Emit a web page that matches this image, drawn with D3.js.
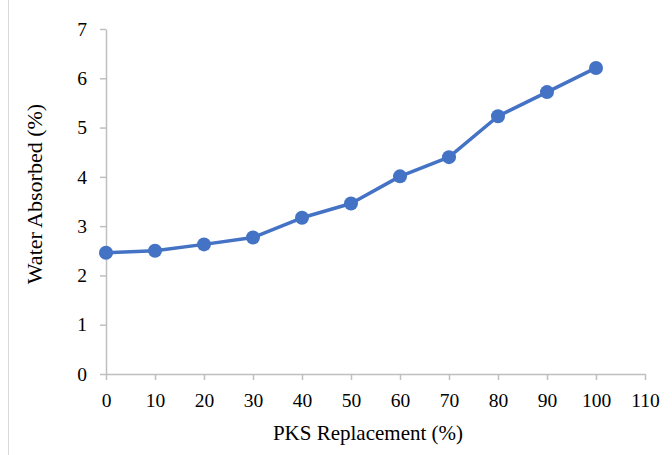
<!DOCTYPE html>
<html>
<head>
<meta charset="utf-8">
<script src="https://cdn.jsdelivr.net/npm/d3@7"></script>
<style>
body{margin:0;background:#fff;}
text{font-family:"Liberation Serif","Times New Roman",serif;fill:#000;}
</style>
</head>
<body>
<div id="chart"></div>
<script>
const pks = [0,10,20,30,40,50,60,70,80,90,100];
const absorbed = [2.46,2.50,2.63,2.77,3.17,3.46,4.01,4.40,5.23,5.72,6.21];
const xTicks = [0,10,20,30,40,50,60,70,80,90,100,110];
const yTicks = [0,1,2,3,4,5,6,7];

const W = 672, H = 455;
const margin = {top:29,right:27,bottom:81,left:106};
const width = W-margin.left-margin.right;
const height = H-margin.top-margin.bottom;

const svg = d3.select('#chart')
.append('svg')
.attr('width',W)
.attr('height',H);

// thin frame line on the left edge
svg.append('line')
.attr('x1',8.5).attr('x2',8.5)
.attr('y1',0).attr('y2',H)
.attr('stroke','#d9d9d9').attr('stroke-width',1);

const x = d3.scaleLinear().domain([0,110]).range([0,width]);
const y = d3.scaleLinear().domain([0,7]).range([height,0]);

const g = svg.append('g')
.attr('transform',`translate(${margin.left},${margin.top})`);

const xAxis = g.append('g')
.attr('transform',`translate(0,${height})`)
.call(d3.axisBottom(x).tickValues(xTicks).tickSize(6).tickSizeOuter(0).tickPadding(13));

const yAxis = g.append('g')
.call(d3.axisLeft(y).tickValues(yTicks).tickFormat(d3.format('d')).tickSize(6).tickSizeOuter(0).tickPadding(13));

[xAxis,yAxis].forEach(a=>{
    a.select('.domain').attr('stroke','#bfbfbf').attr('stroke-width',1.5);
    a.selectAll('.tick line').attr('stroke','#bfbfbf').attr('stroke-width',1.5);
    a.selectAll('.tick text').attr('font-size',19.5).attr('fill','#000')
    .style('font-family','"Liberation Serif","Times New Roman",serif');
});

const line = d3.line()
.x((d,i)=>x(pks[i]))
.y(d=>y(d));

g.append('path')
.datum(absorbed)
.attr('d',line)
.attr('fill','none')
.attr('stroke','#4472c4')
.attr('stroke-width',3.5)
.attr('stroke-linejoin','round');

g.selectAll('circle')
.data(absorbed)
.enter()
.append('circle')
.attr('cx',(d,i)=>x(pks[i]))
.attr('cy',d=>y(d))
.attr('r',7)
.attr('fill','#4472c4');

svg.append('text')
.attr('x',368)
.attr('y',440)
.attr('text-anchor','middle')
.attr('font-size',21)
.text('PKS Replacement (%)');

svg.append('text')
.attr('transform',`translate(42,194) rotate(-90)`)
.attr('text-anchor','middle')
.attr('font-size',22)
.text('Water Absorbed (%)');
</script>
</body>
</html>
